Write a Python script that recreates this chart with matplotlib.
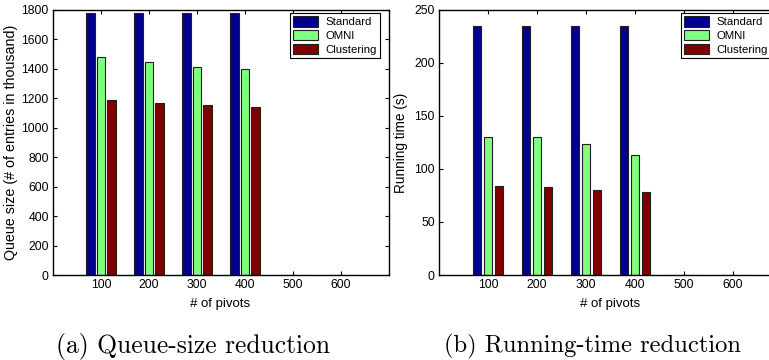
import matplotlib
matplotlib.use("Agg")
import matplotlib.pyplot as plt
import numpy as np

pivots = ["100", "200", "300", "400", "500", "600"]
series = ["Standard", "OMNI", "Clustering"]
queue_standard = [1780, 1780, 1780, 1780, 0, 0]
queue_omni = [1480, 1448, 1416, 1396, 0, 0]
queue_cluster = [1190, 1167, 1154, 1140, 0, 0]
time_standard = [235, 235, 235, 235, 0, 0]
time_omni = [130, 130, 124, 113, 0, 0]
time_cluster = [84, 83, 80, 78, 0, 0]

colors = ["#000090", "#80FF80", "#800000"]
font = ["Liberation Sans", "DejaVu Sans"]
plt.rcParams["font.family"] = font

W, H = 769, 360
fig = plt.figure(figsize=(W / 100, H / 100), dpi=100)

def make_axes(rect, data, ylim, yticks, ylabel, ylab_x, xlab_x, legend_anchor, legend_loc, ylab_size):
    ax = fig.add_axes(rect)
    x = np.arange(1, len(pivots) + 1)
    offsets = [-0.22, 0.0, 0.22]
    for vals, off, col, name in zip(data, offsets, colors, series):
        ax.bar(x + off, vals, width=0.17, color=col, edgecolor="#202020",
               linewidth=0.8, label=name, zorder=2)
    ax.set_xlim(0, 7)
    ax.set_ylim(*ylim)
    ax.set_xticks(x)
    ax.set_xticklabels(pivots)
    ax.set_yticks(yticks)
    ax.tick_params(direction="in", top=True, right=True, length=3, width=0.8,
                   labelsize=8.8, pad=3)
    for s in ax.spines.values():
        s.set_linewidth(1.0)
    ax.set_ylabel(ylabel, fontsize=ylab_size)
    ax.yaxis.set_label_coords(ylab_x, 0.5)
    ax.set_xlabel("# of pivots", fontsize=9.5)
    ax.xaxis.set_label_coords(xlab_x, -0.087)
    leg = ax.legend(loc=legend_loc, bbox_to_anchor=legend_anchor, borderaxespad=0,
                    fontsize=8.2, fancybox=False, framealpha=1, edgecolor="black",
                    handlelength=2.2, handleheight=1.0, labelspacing=0.25,
                    handletextpad=0.6, borderpad=0.3)
    leg.get_frame().set_linewidth(0.8)
    return ax

make_axes([53 / W, (H - 275) / H, 336 / W, 265 / H],
          [queue_standard, queue_omni, queue_cluster], (0, 1800),
          np.arange(0, 1801, 200), "Queue size (# of entries in thousand)",
          -0.105, 0.497, (0.973, 0.989), "upper right", 10.3)

make_axes([439 / W, (H - 275) / H, 343 / W, 265 / H],
          [time_standard, time_omni, time_cluster], (0, 250),
          np.arange(0, 251, 50), "Running time (s)",
          -0.09, 0.5, (0.7055, 0.989), "upper left", 9.8)

fig.text(193 / W, 1 - 346 / H, "(a) Queue-size reduction", family="cmr10",
         fontsize=18.4, ha="center", va="center")
fig.text(592 / W, 1 - 346 / H, "(b) Running-time reduction", family="cmr10",
         fontsize=17.7, ha="center", va="center")

fig.savefig("out.png", dpi=100)
